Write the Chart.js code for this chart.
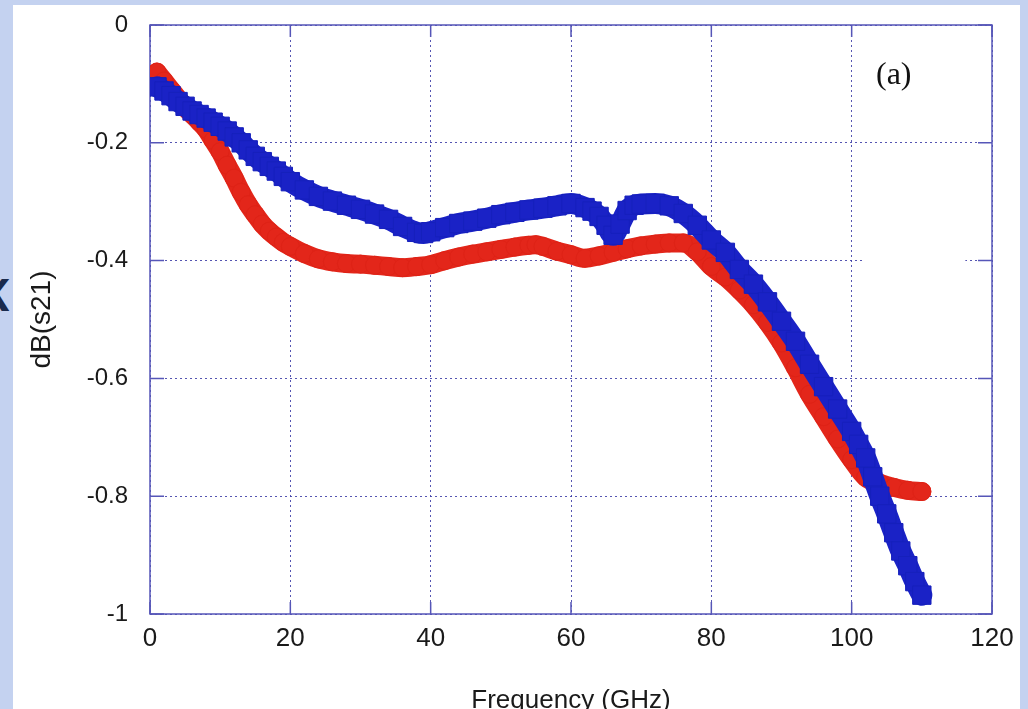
<!DOCTYPE html>
<html>
<head>
<meta charset="utf-8">
<script src="https://cdn.jsdelivr.net/npm/chart.js@4.4.0/dist/chart.umd.min.js"></script>
<style>
  html, body { margin: 0; padding: 0; width: 1028px; height: 709px; overflow: hidden; background: #c4d2f0; }
  #mark { position: absolute; left: -20px; top: 272px; width: 28px; text-align: right; font: bold 44px "Open Sans"; line-height: 44px; color: #1b2b4d; }
  #panel { position: absolute; left: 13px; top: 5px; width: 1007px; height: 720px; background: #fff; }
  #wrap { position: absolute; left: 0; top: 0; width: 1028px; height: 730px; }
  #tag { position: absolute; left: 876px; top: 57px; font: 32px "Liberation Serif"; line-height: 32px; color: #111; }
</style>
</head>
<body>
<div id="mark">K</div>
<div id="panel"></div>
<div id="wrap"><canvas id="myChart"></canvas></div>
<div id="tag">(a)</div>
<script>
// red circles
const redFreq = [1,2,3,4,5,6,7,8,9,10,11,12,13,14,15,16,17,18,19,20,
  22,24,26,28,30,32,34,36,38,40,42,44,46,48,50,52,54,55,56,
  58,60,62,64,66,68,70,72,74,76,78,80,82,84,86,88,90,92,94,96,98,100,102,104,106,108,110];
const redDb = [-0.08,-0.095,-0.11,-0.125,-0.14,-0.152,-0.164,-0.177,-0.196,-0.215,-0.238,-0.26,-0.284,-0.305,-0.322,-0.338,-0.35,-0.36,-0.369,-0.376,
  -0.388,-0.397,-0.402,-0.405,-0.406,-0.408,-0.41,-0.412,-0.41,-0.407,-0.4,-0.394,-0.389,-0.385,-0.381,-0.377,-0.374,-0.373,-0.376,
  -0.384,-0.39,-0.396,-0.392,-0.386,-0.38,-0.375,-0.372,-0.37,-0.37,-0.385,-0.41,-0.428,-0.45,-0.475,-0.505,-0.54,-0.582,-0.627,-0.665,-0.703,-0.738,-0.768,-0.778,-0.785,-0.79,-0.792];

// blue squares
const blueFreq = [1,2,3,4,5,6,7,8,9,10,11,12,13,14,15,16,17,18,19,20,
  22,24,26,28,30,32,34,36,38,39,40,42,44,46,48,50,52,54,56,58,60,
  62,63,64,65,66,67,68,69,70,72,74,76,78,80,82,84,86,88,90,92,94,96,98,100,
  101,102,103,104,105,106,107,108,109,110];
const blueDb = [-0.105,-0.112,-0.12,-0.13,-0.138,-0.146,-0.152,-0.158,-0.165,-0.172,-0.18,-0.19,-0.2,-0.212,-0.223,-0.232,-0.24,-0.248,-0.257,-0.266,
  -0.28,-0.291,-0.299,-0.306,-0.313,-0.321,-0.33,-0.342,-0.352,-0.354,-0.351,-0.344,-0.337,-0.333,-0.328,-0.322,-0.318,-0.314,-0.311,-0.307,-0.303,
  -0.31,-0.316,-0.325,-0.34,-0.357,-0.338,-0.315,-0.306,-0.304,-0.303,-0.307,-0.32,-0.34,-0.365,-0.386,-0.415,-0.44,-0.47,-0.503,-0.537,-0.576,-0.614,-0.652,-0.69,
  -0.712,-0.735,-0.767,-0.8,-0.83,-0.862,-0.893,-0.918,-0.945,-0.968];

const xTicks = [0,20,40,60,80,100,120];
const yTicks = [0,-0.2,-0.4,-0.6,-0.8,-1];

const redPts = redFreq.map((f, i) => ({x: f, y: redDb[i]}));
const bluePts = blueFreq.map((f, i) => ({x: f, y: blueDb[i]}));

const frameColor = '#5656b8';
const gridColor = 'rgba(55,55,165,0.85)';
const textColor = '#1a1a1a';
const redColor = '#e3261a';
const blueColor = '#1a22c6';

// gnuplot style border with inward ticks
const frame = {
  id: 'frame',
  beforeDatasetsDraw(chart) {
    const {ctx, chartArea: a, scales: {x, y}} = chart;
    ctx.save();
    // key area blanks the grid line
    ctx.fillStyle = '#fff';
    const ky = y.getPixelForValue(-0.4);
    ctx.fillRect(x.getPixelForValue(101.6), ky - 3, x.getPixelForValue(116.2) - x.getPixelForValue(101.6), 6);
    ctx.strokeStyle = frameColor;
    ctx.lineWidth = 1.5;
    ctx.setLineDash([]);
    ctx.strokeRect(a.left, a.top, a.right - a.left, a.bottom - a.top);
    ctx.beginPath();
    xTicks.forEach(v => {
      const px = x.getPixelForValue(v);
      ctx.moveTo(px, a.bottom); ctx.lineTo(px, a.bottom - 12);
      ctx.moveTo(px, a.top); ctx.lineTo(px, a.top + 12);
    });
    yTicks.forEach(v => {
      const py = y.getPixelForValue(v);
      ctx.moveTo(a.left, py); ctx.lineTo(a.left + 14, py);
      ctx.moveTo(a.right, py); ctx.lineTo(a.right - 14, py);
    });
    ctx.stroke();
    ctx.restore();
  }
};

const myChart = document.getElementById('myChart');
new Chart(myChart, {
  type: 'scatter',
  data: {
    datasets: [
      {
        label: 'blue',
        data: bluePts,
        showLine: true,
        borderColor: blueColor,
        borderWidth: 21,
        borderJoinStyle: 'round',
        borderCapStyle: 'round',
        cubicInterpolationMode: 'monotone',
        pointStyle: 'rect',
        pointRadius: 13,
        pointBackgroundColor: blueColor,
        pointBorderColor: '#1620bc',
        pointBorderWidth: 1
      },
      {
        label: 'red',
        data: redPts,
        showLine: true,
        borderColor: redColor,
        borderWidth: 19,
        borderJoinStyle: 'round',
        borderCapStyle: 'round',
        cubicInterpolationMode: 'monotone',
        pointStyle: 'circle',
        pointRadius: 9,
        pointBackgroundColor: redColor,
        pointBorderColor: '#de2216',
        pointBorderWidth: 1
      }
    ]
  },
  options: {
    responsive: true,
    maintainAspectRatio: false,
    animation: false,
    layout: { padding: { top: 25, right: 36, left: 0, bottom: 0 } },
    plugins: { legend: { display: false }, tooltip: { enabled: false } },
    scales: {
      x: {
        type: 'linear',
        min: 0, max: 120,
        afterBuildTicks: s => { s.ticks = xTicks.map(v => ({value: v})); },
        ticks: { font: { family: 'Liberation Sans', size: 26 }, color: textColor, padding: 9, maxRotation: 0 },
        grid: { color: gridColor, lineWidth: 1, drawTicks: false },
        border: { display: false, dash: [2, 3] },
        title: { display: true, text: 'Frequency (GHz)', font: { family: 'Liberation Sans', size: 26 }, color: textColor, padding: { top: 0, bottom: 14 } },
        afterFit: s => { s.height = 116; }
      },
      y: {
        min: -1, max: 0,
        afterBuildTicks: s => { s.ticks = yTicks.map(v => ({value: v})); },
        ticks: { font: { family: 'Liberation Sans', size: 24 }, color: textColor, padding: 22,
          callback: v => String(Math.round(v * 10) / 10) },
        grid: { color: gridColor, lineWidth: 1, drawTicks: false },
        border: { display: false, dash: [2, 3] },
        title: { display: true, text: 'dB(s21)', font: { family: 'Liberation Sans', size: 28 }, color: textColor, padding: { top: 25, bottom: 0 } },
        afterFit: s => { s.width = 150; s.paddingTop = 0; s.paddingBottom = 0; }
      }
    }
  },
  plugins: [frame]
});
</script>
</body>
</html>
